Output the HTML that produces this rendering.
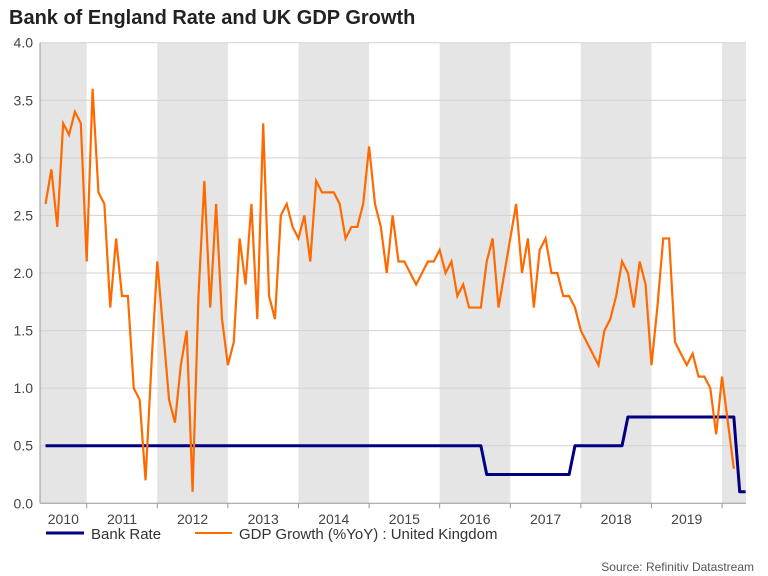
<!DOCTYPE html>
<html><head><meta charset="utf-8"><style>
body{margin:0;background:#fff;font-family:"Liberation Sans",Arial,sans-serif}
svg{display:block}
</style></head><body>
<svg id="chart" width="768" height="576" viewBox="0 0 768 576" xmlns="http://www.w3.org/2000/svg">
<text x="9" y="24" font-size="20" font-weight="bold" fill="#222" font-family="Liberation Sans, sans-serif">Bank of England Rate and UK GDP Growth</text>
<g id="bands"></g><g id="grid"></g><g id="axes"></g><g id="series"></g>
<g>
<line x1="46" y1="533" x2="84" y2="533" stroke="#000080" stroke-width="3"/>
<text x="91" y="539" font-size="15" fill="#333">Bank Rate</text>
<line x1="195" y1="533" x2="232" y2="533" stroke="#ff6a00" stroke-width="2"/>
<text x="239" y="539" font-size="15" fill="#333">GDP Growth (%YoY) : United Kingdom</text>
</g>
<text x="754" y="571" text-anchor="end" font-size="12" fill="#555">Source: Refinitiv Datastream</text>
</svg>
<script>
// GDP growth, monthly, starting 2010-06
const gdpStart = "2010-06";
const gdpValues = [2.6,2.9,2.4,3.3,3.2,3.4,3.3,2.1,3.6,2.7,2.6,1.7,2.3,1.8,1.8,1.0,0.9,0.2,1.2,2.1,1.5,0.9,0.7,1.2,1.5,0.1,1.8,2.8,1.7,2.6,1.6,1.2,1.4,2.3,1.9,2.6,1.6,3.3,1.8,1.6,2.5,2.6,2.4,2.3,2.5,2.1,2.8,2.7,2.7,2.7,2.6,2.3,2.4,2.4,2.6,3.1,2.6,2.4,2.0,2.5,2.1,2.1,2.0,1.9,2.0,2.1,2.1,2.2,2.0,2.1,1.8,1.9,1.7,1.7,1.7,2.1,2.3,1.7,2.0,2.3,2.6,2.0,2.3,1.7,2.2,2.3,2.0,2.0,1.8,1.8,1.7,1.5,1.4,1.3,1.2,1.5,1.6,1.8,2.1,2.0,1.7,2.1,1.9,1.2,1.7,2.3,2.3,1.4,1.3,1.2,1.3,1.1,1.1,1.0,0.6,1.1,0.7,0.3];
// Bank rate changes (month in which new rate is first observed)
const rateDates = ["2010-06","2016-09","2017-12","2018-09","2020-04"];
const rateValues = [0.5,0.25,0.5,0.75,0.1];
const rateEnd = "2020-05";
const yTicks = [0,0.5,1,1.5,2,2.5,3,3.5,4];
const years = [2010,2011,2012,2013,2014,2015,2016,2017,2018,2019];

const NS="http://www.w3.org/2000/svg";
const L=40,R=746,T=42.7,B=503.3;
function monthIdx(s){const [y,m]=s.split("-").map(Number);return (y-2010)*12+(m-1);}
function x(m){return 16.1+m*5.883;}
function y(v){return B-(v/4)*(B-T);}
function mk(tag,attrs,parent){const e=document.createElementNS(NS,tag);for(const k in attrs)e.setAttribute(k,attrs[k]);document.getElementById(parent).appendChild(e);return e;}

for(let yr=2010;yr<=2020;yr+=2){
  const x0=Math.max(L,x((yr-2010)*12)),x1=Math.min(R,x((yr-2009)*12));
  const b=mk("rect",{x:x0,y:T,width:x1-x0,height:B-T,fill:"#e5e5e5"},"bands");
  
  
}
yTicks.forEach(v=>{
  if(v>0){const g=mk("line",{x1:L,x2:R,y1:y(v),y2:y(v),stroke:"#d2d2d2","stroke-width":1},"grid");
  
  }
  const t=mk("text",{x:33,y:y(v)+5,"text-anchor":"end","font-size":14,fill:"#444"},"axes");
  t.textContent=v.toFixed(1);
  
  
});
const ax=mk("line",{x1:L,x2:L,y1:T,y2:B,stroke:"#999","stroke-width":1},"axes");


const bx=mk("line",{x1:L,x2:R,y1:B,y2:B,stroke:"#999","stroke-width":1},"axes");


years.forEach(yr=>{
  const xb=x((yr-2009)*12);
  const tk=mk("line",{x1:xb,x2:xb,y1:B,y2:B+5,stroke:"#999"},"axes");
  
  
  const xa=Math.max(L,x((yr-2010)*12));
  const t=mk("text",{x:(xa+xb)/2,y:524,"text-anchor":"middle","font-size":14,fill:"#444"},"axes");
  t.textContent=yr;
  
  
});
const rpts=[];
for(let i=0;i<rateDates.length;i++){
  const m=monthIdx(rateDates[i]);
  if(i>0)rpts.push([x(m-1),y(rateValues[i-1])]);
  rpts.push([x(m),y(rateValues[i])]);
}
rpts.push([x(monthIdx(rateEnd)),y(rateValues[rateValues.length-1])]);
rpts[0][0]=Math.max(rpts[0][0],L+4);
const br=mk("polyline",{points:rpts.map(p=>p.join(",")).join(" "),fill:"none",stroke:"#000080","stroke-width":3,"stroke-linejoin":"round"},"series");


const g0=monthIdx(gdpStart);
const gp=gdpValues.map((v,i)=>x(g0+i)+","+y(v)).join(" ");
const gl=mk("polyline",{points:gp,fill:"none",stroke:"#ff6a00","stroke-width":2.2,"stroke-linejoin":"miter"},"series");


</script>
</body></html>
